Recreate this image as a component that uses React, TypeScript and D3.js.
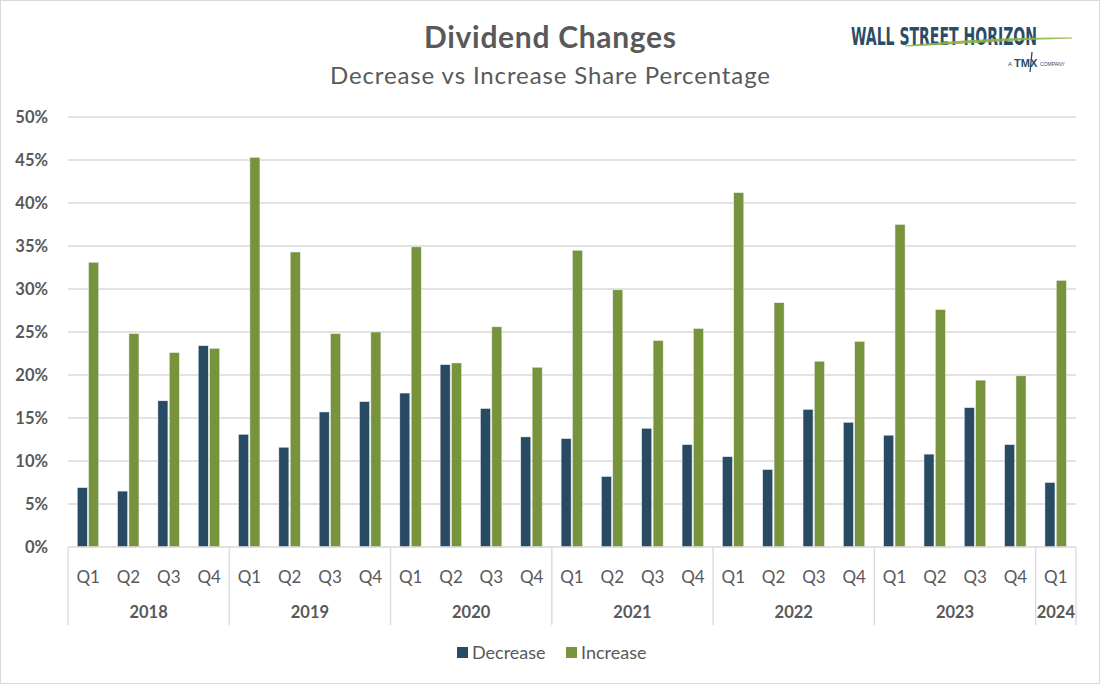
import * as d3 from "d3";

// values (percent)
const quarters = ["Q1", "Q2", "Q3", "Q4"];
const years = ["2018", "2019", "2020", "2021", "2022", "2023", "2024"];
const quartersPerYear = [4, 4, 4, 4, 4, 4, 1];
const decrease = [
  6.9, 6.5, 17.0, 23.4, 13.1, 11.6, 15.7, 16.9, 17.9, 21.2, 16.1, 12.8, 12.6,
  8.2, 13.8, 11.9, 10.5, 9.0, 16.0, 14.5, 13.0, 10.8, 16.2, 11.9, 7.5,
];
const increase = [
  33.1, 24.8, 22.6, 23.1, 45.3, 34.3, 24.8, 25.0, 34.9, 21.4, 25.6, 20.9, 34.5,
  29.9, 24.0, 25.4, 41.2, 28.4, 21.6, 23.9, 37.5, 27.6, 19.4, 19.9, 31.0,
];
const series = ["Decrease", "Increase"];
const yTicks = [0, 5, 10, 15, 20, 25, 30, 35, 40, 45, 50];

const W = 1100;
const H = 684;
const colors: Record<string, string> = { Decrease: "#284b63", Increase: "#77933c" };
const font = "Lato, 'Open Sans', sans-serif";
const gray = "#595959";

// one row per quarter
const rows = years.flatMap((yr, yi) =>
  quarters.slice(0, quartersPerYear[yi]).map((q) => ({ key: `${yr}-${q}`, year: yr, q }))
).map((r, i) => ({ ...r, Decrease: decrease[i], Increase: increase[i] }));

export default function App() {
  const margin = { left: 68, right: 24, top: 117, bottom: 137 };
  const plotBottom = H - margin.bottom;

  const x0 = d3
    .scaleBand()
    .domain(rows.map((d) => d.key))
    .range([margin.left, W - margin.right])
    .padding(0);
  const bw = x0.bandwidth();
  const x1 = d3
    .scaleBand()
    .domain(series)
    .range([bw * 0.23, bw * 0.76])
    .paddingInner(0.12);
  const y = d3.scaleLinear().domain([0, 50]).range([plotBottom, margin.top]);

  // year group boundaries
  let start = 0;
  const groups = years.map((yr, yi) => {
    const first = rows[start].key;
    const last = rows[start + quartersPerYear[yi] - 1].key;
    start += quartersPerYear[yi];
    const x1p = x0(first)!;
    const x2p = x0(last)! + bw;
    return { yr, x1: x1p, x2: x2p };
  });

  const swoosh = d3.line().curve(d3.curveBasis);

  return (
    <svg
      width={W}
      height={H}
      style={{ position: "absolute", left: 0, top: 0, background: "#fff" }}
    >
      <rect x={0.5} y={0.5} width={W - 1} height={H - 1} fill="#fff" stroke="#d9d9d9" />

      {/* titles */}
      <text
        x={424}
        y={48}
        fontFamily={font}
        fontWeight={700}
        fontSize={30}
        fill={gray}
        textLength={252}
        lengthAdjust="spacing"
      >
        Dividend Changes
      </text>
      <text
        x={330}
        y={84}
        fontFamily={font}
        fontSize={24}
        fill={gray}
        textLength={440}
        lengthAdjust="spacing"
      >
        Decrease vs Increase Share Percentage
      </text>

      {/* logo */}
      <g>
        <text
          x={851}
          y={45}
          fontFamily="'Liberation Sans Narrow', 'DejaVu Sans Condensed', sans-serif"
          fontWeight={700}
          fontSize={24}
          fill="#2b4c66"
          textLength={186}
          lengthAdjust="spacingAndGlyphs"
        >
          WALL STREET HORIZON
        </text>
        <path
          d={
            (swoosh([
              [905, 46],
              [960, 41],
              [1020, 38],
              [1072, 38],
            ]) || "") +
            (swoosh([
              [1072, 38],
              [1020, 39.5],
              [960, 43.5],
              [905, 46],
            ]) || "").replace("M", "L")
          }
          fill="#8db24b"
          stroke="#8db24b"
          strokeWidth={1.2}
          opacity={0.9}
        />
        <text x={1008} y={66} fontFamily="'Liberation Sans', sans-serif" fontSize={6} fill="#2b4c66">
          A
        </text>
        <text x={1014} y={67} fontFamily="'Liberation Sans', sans-serif" fontWeight={700} fontSize={11} fill="#2b4c66">
          TMX
        </text>
        <line x1={1032} y1={52} x2={1030} y2={72} stroke="#2b4c66" strokeWidth={1.3} />
        <text x={1040} y={66} fontFamily="'Liberation Sans', sans-serif" fontSize={5} fill="#2b4c66">
          COMPANY
        </text>
      </g>

      {/* gridlines + y labels */}
      {yTicks.map((t) => (
        <g key={t}>
          {t > 0 && (
            <line
              x1={margin.left}
              x2={W - margin.right}
              y1={y(t)}
              y2={y(t)}
              stroke="#d9d9d9"
              strokeWidth={1.3}
            />
          )}
          <text
            x={48}
            y={y(t)}
            dy="0.35em"
            textAnchor="end"
            fontFamily={font}
            fontWeight={700}
            fontSize={16.5}
            fill={gray}
          >
            {t}%
          </text>
        </g>
      ))}

      {/* bars */}
      {rows.map((r) => (
        <g key={r.key} transform={`translate(${x0(r.key)},0)`}>
          {series.map((s) => {
            const v = (r as any)[s] as number;
            return (
              <rect
                key={s}
                x={x1(s)}
                y={y(v)}
                width={x1.bandwidth()}
                height={plotBottom - y(v)}
                fill={colors[s]}
                stroke="#e8ecef"
                strokeWidth={0.5}
              />
            );
          })}
        </g>
      ))}

      {/* x axis */}
      <line x1={margin.left} x2={W - margin.right} y1={plotBottom} y2={plotBottom} stroke="#d9d9d9" strokeWidth={1.3} />
      {rows.map((r) => (
        <text
          key={r.key}
          x={x0(r.key)! + bw / 2}
          y={583}
          textAnchor="middle"
          fontFamily={font}
          fontSize={17}
          fill={gray}
        >
          {r.q}
        </text>
      ))}
      {groups.map((g, i) => (
        <g key={g.yr}>
          <line x1={g.x1} x2={g.x1} y1={plotBottom} y2={625} stroke="#d9d9d9" strokeWidth={1.3} />
          {i === groups.length - 1 && (
            <line x1={g.x2} x2={g.x2} y1={plotBottom} y2={625} stroke="#d9d9d9" strokeWidth={1.3} />
          )}
          <text
            x={(g.x1 + g.x2) / 2}
            y={618}
            textAnchor="middle"
            fontFamily={font}
            fontWeight={700}
            fontSize={16.5}
            fill={gray}
          >
            {g.yr}
          </text>
        </g>
      ))}

      {/* legend */}
      {series.map((s, i) => {
        const lx = i === 0 ? 457 : 566;
        return (
          <g key={s} transform={`translate(${lx},653)`}>
            <rect x={0} y={-6} width={11} height={11} fill={colors[s]} />
            <text x={15} y={0} dy="0.35em" fontFamily={font} fontSize={18} fill={gray}>
              {s}
            </text>
          </g>
        );
      })}
    </svg>
  );
}
